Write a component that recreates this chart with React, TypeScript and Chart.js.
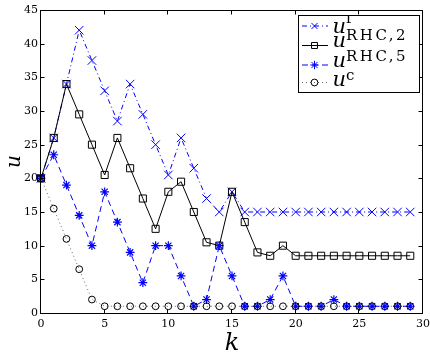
import React, { useEffect, useRef } from "react";
import { Chart, registerables } from "chart.js";
import { drawPoint } from "chart.js/helpers";
Chart.register(...registerables);

// ---- data ----
const kValues = [0, 1, 2, 3, 4, 5, 6, 7, 8, 9, 10, 11, 12, 13, 14, 15, 16, 17, 18, 19, 20, 21, 22, 23, 24, 25, 26, 27, 28, 29];
const uF = [20, 26, 34, 42, 37.5, 33, 28.5, 34, 29.5, 25, 20.5, 26, 21.5, 17, 15, 18, 15, 15, 15, 15, 15, 15, 15, 15, 15, 15, 15, 15, 15, 15];
const uRHC2 = [20, 26, 34, 29.5, 25, 20.5, 26, 21.5, 17, 12.5, 18, 19.5, 15, 10.5, 10, 18, 13.5, 9, 8.5, 10, 8.5, 8.5, 8.5, 8.5, 8.5, 8.5, 8.5, 8.5, 8.5, 8.5];
const uRHC5 = [20, 23.5, 19, 14.5, 10, 18, 13.5, 9, 4.5, 10, 10, 5.5, 1, 2, 10, 5.5, 1, 1, 2, 5.5, 1, 1, 1, 2, 1, 1, 1, 1, 1, 1];
const uC = [20, 15.5, 11, 6.5, 2, 1, 1, 1, 1, 1, 1, 1, 1, 1, 1, 1, 1, 1, 1, 1, 1, 1, 1, 1, 1, 1, 1, 1, 1, 1];
const xTicks = [0, 5, 10, 15, 20, 25, 30];
const yTicks = [0, 5, 10, 15, 20, 25, 30, 35, 40, 45];
const seriesSup = ["f", "RHC,2", "RHC,5", "c"];
const baseSymbol = "u";
const xTitle = "k";
const yTitle = "u";

const BLUE = "#0000ff";
const BLACK = "#000000";
const GRAYDOT = "rgba(0,0,0,0.6)";

const styles = [
  { color: BLUE, dash: [5, 3, 1, 3], point: "crossRot", radius: 6, pw: 1 },
  { color: BLACK, dash: [], point: "rect", radius: 5, pw: 1 },
  { color: BLUE, dash: [6, 4], point: "star", radius: 4.4, pw: 1.2 },
  { color: GRAYDOT, dash: [1, 3], point: "circle", radius: 3.4, pw: 1, pointColor: BLACK },
];

const serif = '"DejaVu Serif", "Liberation Serif", serif';

// legend row geometry (pixels)
const legendMarkY = [25.5, 45, 64.5, 82];
const legendBaseY = [33, 47, 66.5, 86];
const legendSupY = [23.3, 40, 60.5, 80];

const decoPlugin = {
  id: "deco",
  afterDraw(chart: any) {
    const { ctx, chartArea: a, scales } = chart;
    const xs = scales.x;
    const ys = scales.y;
    ctx.save();
    ctx.setLineDash([]);
    ctx.strokeStyle = BLACK;
    ctx.lineWidth = 1;
    const L = Math.round(a.left) - 0.5;
    const R = Math.round(a.right) - 0.5;
    const T = Math.round(a.top) + 0.5;
    const B = Math.round(a.bottom) + 0.5;
    ctx.strokeRect(L, T, R - L, B - T);
    const tl = 4;
    ctx.beginPath();
    for (const v of xTicks) {
      const px = Math.round(xs.getPixelForValue(v)) - 0.5;
      ctx.moveTo(px, B);
      ctx.lineTo(px, B - tl);
      ctx.moveTo(px, T);
      ctx.lineTo(px, T + tl);
    }
    for (const v of yTicks) {
      const py = Math.round(ys.getPixelForValue(v)) + 0.5;
      ctx.moveTo(L, py);
      ctx.lineTo(L + tl, py);
      ctx.moveTo(R, py);
      ctx.lineTo(R - tl, py);
    }
    ctx.stroke();

    // axis titles
    ctx.fillStyle = BLACK;
    ctx.font = `italic 24px ${serif}`;
    ctx.textAlign = "center";
    ctx.textBaseline = "alphabetic";
    ctx.fillText(xTitle, (a.left + a.right) / 2, 350);
    ctx.save();
    ctx.translate(19.5, (a.top + a.bottom) / 2);
    ctx.rotate(-Math.PI / 2);
    ctx.font = `italic 20px ${serif}`;
    ctx.fillText(yTitle, 0, 0);
    ctx.restore();

    // legend
    const bx = 298.5, by = 15.5, bw = 121, bh = 77;
    ctx.fillStyle = "#ffffff";
    ctx.fillRect(bx, by, bw, bh);
    for (let i = 0; i < 4; i++) {
      const st = styles[i];
      const my = legendMarkY[i];
      ctx.save();
      ctx.strokeStyle = st.color;
      ctx.lineWidth = 1;
      ctx.setLineDash(st.dash);
      ctx.beginPath();
      ctx.moveTo(302, my + 0.5);
      ctx.lineTo(328, my + 0.5);
      ctx.stroke();
      ctx.setLineDash([]);
      ctx.strokeStyle = st.pointColor || st.color;
      ctx.fillStyle = "rgba(0,0,0,0)";
      drawPoint(ctx, { pointStyle: st.point, radius: Math.min(st.radius, 4.2), borderWidth: st.pw, rotation: 0 } as any, 314.5, my + 0.5);
      ctx.restore();

      ctx.fillStyle = BLACK;
      ctx.textAlign = "left";
      ctx.textBaseline = "alphabetic";
      ctx.font = `italic 21px ${serif}`;
      ctx.fillText(baseSymbol, 332.5, legendBaseY[i]);
      ctx.save();
      ctx.beginPath();
      ctx.rect(bx, by, bw, bh);
      ctx.clip();
      ctx.font = `15px ${serif}`;
      (ctx as any).letterSpacing = "2.5px";
      ctx.fillText(seriesSup[i], 346, legendSupY[i]);
      (ctx as any).letterSpacing = "0px";
      ctx.restore();
    }
    ctx.strokeStyle = BLACK;
    ctx.lineWidth = 1;
    ctx.strokeRect(bx, by, bw, bh);
    ctx.restore();
  },
};

export default function App() {
  const ref = useRef<HTMLCanvasElement | null>(null);
  useEffect(() => {
    if (!ref.current) return;
    const series = [uF, uRHC2, uRHC5, uC];
    const datasets = series
      .map((vals, i) => {
        const st = styles[i];
        return {
          data: vals.map((v, j) => ({ x: kValues[j], y: v })),
          borderColor: st.color,
          borderWidth: 1,
          borderDash: st.dash,
          pointStyle: st.point,
          pointRadius: st.radius,
          pointBorderColor: st.pointColor || st.color,
          pointBackgroundColor: "rgba(0,0,0,0)",
          pointBorderWidth: st.pw,
          fill: false,
          tension: 0,
          clip: false,
        };
      })
      .reverse();
    const chart = new Chart(ref.current, {
      type: "line",
      data: { datasets: datasets as any },
      options: {
        animation: false,
        responsive: false,
        devicePixelRatio: 1,
        events: [],
        layout: { padding: { left: 0, top: 10, right: 5, bottom: 0 } },
        plugins: { legend: { display: false }, tooltip: { enabled: false } },
        scales: {
          x: {
            type: "linear",
            min: 0,
            max: 30,
            grid: { display: false, drawTicks: false },
            border: { display: false },
            ticks: { stepSize: 5, padding: 5, color: BLACK, font: { family: serif, size: 11 }, maxRotation: 0 },
            afterFit: (s: any) => {
              s.height = 42;
              s.paddingLeft = 0;
              s.paddingRight = 0;
            },
          },
          y: {
            type: "linear",
            min: 0,
            max: 45,
            grid: { display: false, drawTicks: false },
            border: { display: false },
            ticks: { stepSize: 5, padding: 3, color: BLACK, font: { family: serif, size: 11 } },
            afterFit: (s: any) => {
              s.width = 41;
              s.paddingTop = 0;
              s.paddingBottom = 0;
            },
          },
        },
      },
      plugins: [decoPlugin as any],
    });
    return () => chart.destroy();
  }, []);
  return (
    <div style={{ position: "fixed", left: 0, top: 0, width: 430, height: 355, background: "#fff" }}>
      <canvas ref={ref} width={430} height={355} style={{ display: "block" }} />
    </div>
  );
}
